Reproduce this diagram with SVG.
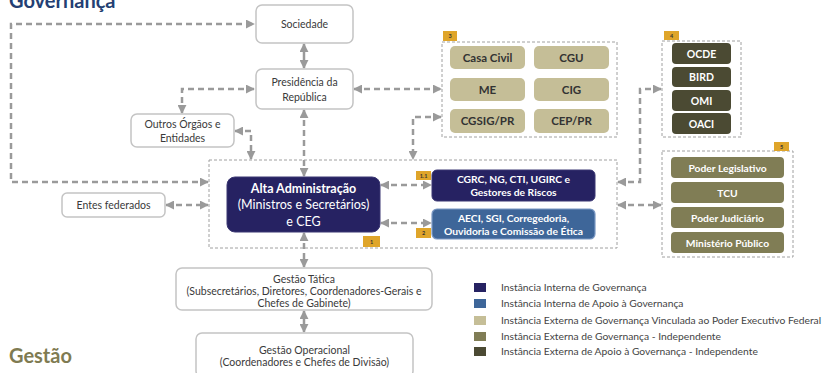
<svg xmlns="http://www.w3.org/2000/svg" width="826" height="373" viewBox="0 0 826 373">
<style>
text{font-family:Lato,"Liberation Sans",sans-serif;}
.wb{fill:#fff;stroke:#c4c4c4;stroke-width:1.5;}
.t{font-size:10.5px;fill:#3a3a3a;text-anchor:middle;}
.cont{fill:none;stroke:#a0a0a0;stroke-width:1;stroke-dasharray:3 2;}
.navy{fill:#262262;stroke:#3a3672;stroke-width:1;}
.blue{fill:#3E6699;stroke:#7a98c4;stroke-width:1.2;}
.khaki{fill:#C5BE97;}
.olive{fill:#807D55;}
.dark{fill:#4B4A33;}
.wt{fill:#fff;font-weight:bold;text-anchor:middle;}
.kt{fill:#333;font-weight:bold;text-anchor:middle;font-size:11.5px;}
.tag{fill:#DFA52A;}
.tagt{font-size:5.5px;font-weight:bold;fill:#333;text-anchor:middle;}
.c{fill:none;stroke:#9a9a9a;stroke-width:2.5;stroke-dasharray:6 4;marker-start:url(#a);marker-end:url(#a);}
.s{fill:none;stroke:#9a9a9a;stroke-width:2.5;marker-start:url(#a);marker-end:url(#a);}
.lg{font-size:10.3px;fill:#444;}
</style>
<defs>
<marker id="a" viewBox="0 0 10 10" refX="9" refY="5" markerUnits="userSpaceOnUse" markerWidth="9" markerHeight="9" orient="auto-start-reverse">
<path d="M0,0 L10,5 L0,10 z" fill="#9a9a9a"/>
</marker>
</defs>

<text x="9" y="8" font-size="20" font-weight="bold" fill="#243F73">Governança</text>
<text x="9" y="363" font-size="20" font-weight="bold" fill="#7F7B52">Gestão</text>

<g id="connectors">
<path class="c" d="M208,182 L11,182 L11,24 L254,24"/>
<path class="c" d="M254,89 L182,89 L182,113"/>
<path class="c" d="M235,131 L251,131 L251,159"/>
<path class="s" d="M304,44 L304,68"/>
<path class="c" d="M304,110 L304,176"/>
<path class="c" d="M354,89 L441,89"/>
<path class="c" d="M441,117 L413,117 L413,159"/>
<path class="c" d="M166,205 L208,205"/>
<path class="c" d="M381,185 L431,185"/>
<path class="c" d="M381,223 L431,223"/>
<path class="c" d="M661,89 L640,89 L640,182 L618,182"/>
<path class="c" d="M618,205 L661,205"/>
<path class="c" d="M304,233 L304,267"/>
<path class="s" d="M304,311 L304,332"/>
</g>

<g id="sociedade">
<rect class="wb" x="256" y="5" width="97" height="38" rx="6"/>
<text class="t" x="304.5" y="28">Sociedade</text>
</g>
<g id="presidencia">
<rect class="wb" x="256" y="69" width="97" height="40" rx="6"/>
<text class="t" x="304.5" y="86">Presidência da</text>
<text class="t" x="304.5" y="101">República</text>
</g>
<g id="outros">
<rect class="wb" x="131" y="114" width="103" height="33" rx="6"/>
<text class="t" x="182.5" y="128">Outros Órgãos e</text>
<text class="t" x="182.5" y="142">Entidades</text>
</g>
<g id="entes">
<rect class="wb" x="62" y="193" width="103" height="24" rx="5"/>
<text class="t" x="113.5" y="209">Entes federados</text>
</g>

<g id="container1">
<rect class="cont" x="209" y="160" width="408" height="88"/>
</g>
<g id="alta">
<rect class="navy" x="227" y="177" width="153" height="55" rx="8"/>
<text class="wt" x="303.5" y="193" font-size="12.5">Alta Administração</text>
<text x="303.5" y="209" font-size="12.5" fill="#fff" text-anchor="middle">(Ministros e Secretários)</text>
<text x="303.5" y="226" font-size="12.5" fill="#fff" text-anchor="middle">e CEG</text>
<rect class="tag" x="363" y="236" width="17" height="11"/>
<text class="tagt" x="371.5" y="243.5">1</text>
</g>
<g id="cgrc">
<rect class="navy" x="432" y="170" width="163" height="31" rx="5"/>
<text class="wt" x="513.5" y="183" font-size="10.3">CGRC, NG, CTI, UGIRC e</text>
<text class="wt" x="513.5" y="196" font-size="10.3">Gestores de Riscos</text>
<rect class="tag" x="416" y="171" width="15" height="9"/>
<text class="tagt" x="423.5" y="177.5">1.1</text>
</g>
<g id="aeci">
<rect class="blue" x="432" y="209" width="163" height="30" rx="5"/>
<text class="wt" x="513.5" y="221.5" font-size="10.3">AECI, SGI, Corregedoria,</text>
<text class="wt" x="513.5" y="234.5" font-size="10.3">Ouvidoria e Comissão de Ética</text>
<rect class="tag" x="416" y="228" width="15" height="10"/>
<text class="tagt" x="423.5" y="235">2</text>
</g>

<g id="grupo3">
<rect class="cont" x="442" y="42" width="175" height="95"/>
<rect class="tag" x="443" y="31" width="14" height="10"/>
<text class="tagt" x="450" y="38">3</text>
<rect class="khaki" x="450" y="46" width="75" height="23" rx="5"/>
<text class="kt" x="487.5" y="61.5">Casa Civil</text>
<rect class="khaki" x="534" y="46" width="75" height="23" rx="5"/>
<text class="kt" x="571.5" y="61.5">CGU</text>
<rect class="khaki" x="450" y="78" width="75" height="23" rx="5"/>
<text class="kt" x="487.5" y="93.5">ME</text>
<rect class="khaki" x="534" y="78" width="75" height="23" rx="5"/>
<text class="kt" x="571.5" y="93.5">CIG</text>
<rect class="khaki" x="450" y="109" width="75" height="24" rx="5"/>
<text class="kt" x="487.5" y="125">CGSIG/PR</text>
<rect class="khaki" x="534" y="109" width="75" height="24" rx="5"/>
<text class="kt" x="571.5" y="125">CEP/PR</text>
</g>

<g id="grupo4">
<rect class="cont" x="662" y="41" width="79" height="96"/>
<rect class="tag" x="664" y="31" width="15" height="9"/>
<text class="tagt" x="671.5" y="37.5">4</text>
<rect class="dark" x="672" y="43" width="59" height="21" rx="4"/>
<text class="wt" x="701.5" y="57.5" font-size="10.5">OCDE</text>
<rect class="dark" x="672" y="67" width="59" height="20" rx="4"/>
<text class="wt" x="701.5" y="81" font-size="10.5">BIRD</text>
<rect class="dark" x="672" y="90" width="59" height="21" rx="4"/>
<text class="wt" x="701.5" y="104.5" font-size="10.5">OMI</text>
<rect class="dark" x="672" y="113" width="59" height="21" rx="4"/>
<text class="wt" x="701.5" y="127.5" font-size="10.5">OACI</text>
</g>

<g id="grupo5">
<rect class="cont" x="662" y="151" width="131" height="106"/>
<rect class="tag" x="774" y="142" width="15" height="9"/>
<text class="tagt" x="781.5" y="148.5">5</text>
<rect class="olive" x="671" y="157" width="113" height="21" rx="4"/>
<text class="wt" x="727.5" y="171.5" font-size="10.3">Poder Legislativo</text>
<rect class="olive" x="671" y="182" width="113" height="21" rx="4"/>
<text class="wt" x="727.5" y="196.5" font-size="10.3">TCU</text>
<rect class="olive" x="671" y="207" width="113" height="21" rx="4"/>
<text class="wt" x="727.5" y="221.5" font-size="10.3">Poder Judiciário</text>
<rect class="olive" x="671" y="232" width="113" height="21" rx="4"/>
<text class="wt" x="727.5" y="246.5" font-size="10.3">Ministério Público</text>
</g>

<g id="tatica">
<rect class="wb" x="176" y="268" width="256" height="42" rx="6"/>
<text class="t" x="304" y="282.5">Gestão Tática</text>
<text class="t" x="304" y="294.5">(Subsecretários, Diretores, Coordenadores-Gerais e</text>
<text class="t" x="304" y="306.5">Chefes de Gabinete)</text>
</g>
<g id="operacional">
<rect class="wb" x="196" y="333" width="217" height="44" rx="6"/>
<text class="t" x="304.5" y="353.5">Gestão Operacional</text>
<text class="t" x="304.5" y="365.5">(Coordenadores e Chefes de Divisão)</text>
</g>

<g id="legenda">
<rect x="474" y="283" width="12" height="9" fill="#262262"/>
<text class="lg" x="501" y="290.5">Instância Interna de Governança</text>
<rect x="474" y="299" width="12" height="9" fill="#3E6699"/>
<text class="lg" x="501" y="306.5">Instância Interna de Apoio à Governança</text>
<rect x="474" y="316" width="12" height="9" fill="#C5BE97"/>
<text class="lg" x="501" y="323.5">Instância Externa de Governança Vinculada ao Poder Executivo Federal</text>
<rect x="474" y="332" width="12" height="9" fill="#807D55"/>
<text class="lg" x="501" y="339.5">Instância Externa de Governança - Independente</text>
<rect x="474" y="347" width="12" height="9" fill="#4B4A33"/>
<text class="lg" x="501" y="354.5">Instância Externa de Apoio à Governança - Independente</text>
</g>
</svg>
